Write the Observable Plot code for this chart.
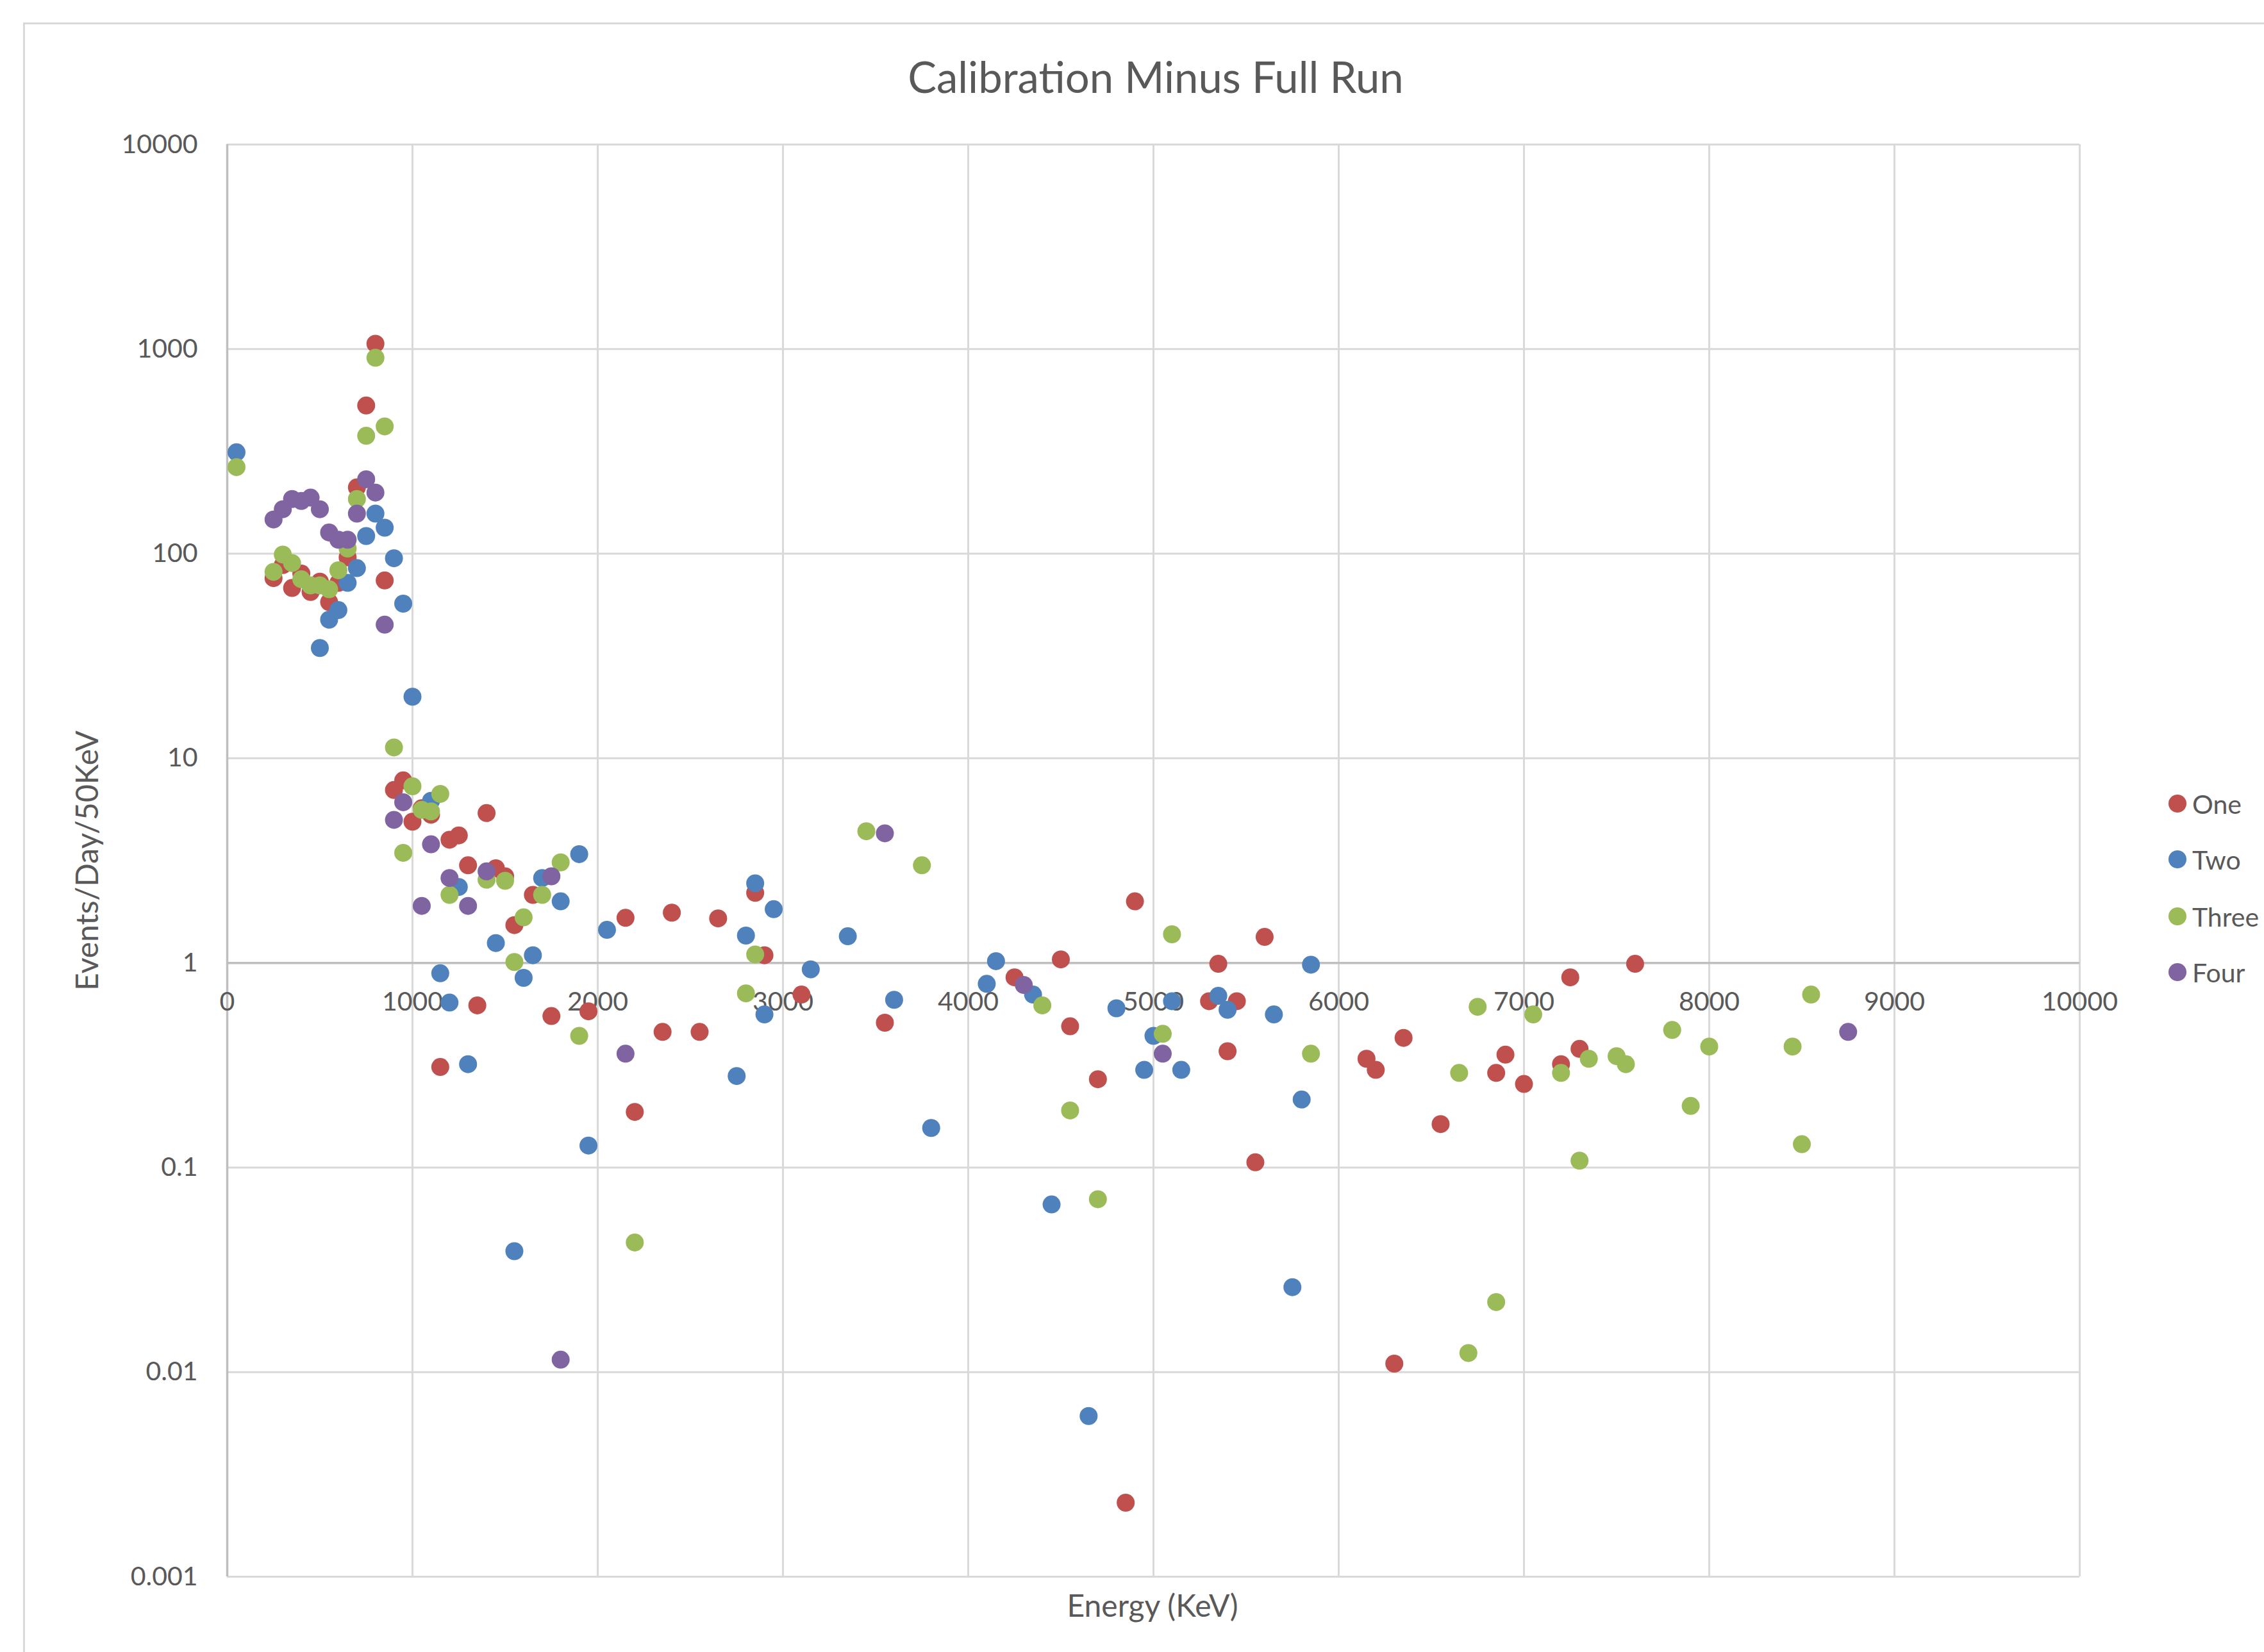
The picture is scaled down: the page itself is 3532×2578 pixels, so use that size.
<!DOCTYPE html>
<html><head><meta charset="utf-8">
<script src="https://cdn.jsdelivr.net/npm/d3@7"></script>
<script src="https://cdn.jsdelivr.net/npm/@observablehq/plot@0.6"></script>
<style>
body{margin:0;background:#fff;}
#wrap{position:relative;width:3532px;height:2578px;overflow:hidden;font-family:Lato,"Open Sans",sans-serif;color:#595959;background:#fff;}
.abs{position:absolute;white-space:nowrap;}
#wrap svg{position:absolute;left:0;top:0;}
</style></head><body><div id="wrap"></div>
<script>
const seriesNames = ["One", "Two", "Three", "Four"];
const seriesColors = ["#C0504D", "#4F81BD", "#9BBB59", "#8064A2"];

const oneE = [250,300,350,400,450,500,550,600,650,700,750,800,850,900,950,1000,1050,1100,1150,1200,1250,1300,1350,1400,1450,1500,1550,1650,1750,1950,2150,2200,2350,2400,2550,2650,2850,2900,3100,3550,4250,4500,4550,4700,4850,4900,5300,5350,5400,5450,5550,5600,6150,6200,6300,6350,6550,6850,6900,7000,7200,7250,7300,7600];
const oneV = [76,88,68,80,65,73,58,72,96,211,530,1062,74,7.0,7.8,4.9,5.7,5.3,0.31,4.0,4.2,3.0,0.62,5.4,2.9,2.65,1.53,2.15,0.55,0.58,1.66,0.187,0.46,1.76,0.46,1.65,2.2,1.09,0.70,0.51,0.85,1.04,0.49,0.27,0.0023,2.0,0.65,0.99,0.37,0.65,0.106,1.34,0.34,0.30,0.011,0.43,0.163,0.29,0.356,0.256,0.32,0.85,0.38,0.99];

const twoE = [50,500,550,600,650,700,750,800,850,900,950,1000,1100,1150,1200,1250,1300,1450,1550,1600,1650,1700,1800,1900,1950,2050,2750,2800,2850,2900,2950,3150,3350,3600,3800,4100,4150,4350,4450,4650,4800,4950,5000,5100,5150,5350,5400,5650,5750,5800,5850];
const twoV = [313,34.6,47.6,53,72,85,122,157,134,95,57,20,6.2,0.89,0.64,2.35,0.32,1.25,0.039,0.845,1.09,2.6,2.0,3.4,0.128,1.45,0.28,1.36,2.45,0.56,1.83,0.93,1.35,0.66,0.156,0.79,1.02,0.70,0.066,0.0061,0.60,0.30,0.44,0.65,0.30,0.69,0.59,0.56,0.026,0.215,0.98];

const threeE = [50,250,300,350,400,450,500,550,600,650,700,750,800,850,900,950,1000,1050,1100,1150,1200,1400,1500,1550,1600,1700,1800,1900,2200,2800,2850,3450,3750,4400,4550,4700,5050,5100,5850,6650,6700,6750,6850,7050,7200,7300,7350,7500,7550,7800,7900,8000,8450,8500,8550];
const threeV = [265,81.5,99,90,75,70,70,67,83,106,185,377,907,419,11.3,3.45,7.3,5.6,5.5,6.7,2.15,2.55,2.52,1.01,1.67,2.15,3.1,0.44,0.043,0.71,1.1,4.4,3.0,0.62,0.19,0.07,0.45,1.38,0.36,0.29,0.0124,0.61,0.022,0.56,0.29,0.108,0.34,0.35,0.32,0.47,0.2,0.39,0.39,0.13,0.70];

const fourE = [250,300,350,400,450,500,550,600,650,700,750,800,850,900,950,1050,1100,1200,1300,1400,1750,1800,2150,3550,4300,5050,8750];
const fourV = [147,165,185,181,188,165,127,117,117,157,231,199,45,5.0,6.1,1.9,3.8,2.6,1.9,2.8,2.65,0.0115,0.36,4.3,0.78,0.36,0.46];

const xTicks = [0,1000,2000,3000,4000,5000,6000,7000,8000,9000,10000];
const xTickLabels = ["0","1000","2000","3000","4000","5000","6000","7000","8000","9000","10000"];
const yTicks = [0.001,0.01,0.1,1,10,100,1000,10000];
const yTickLabels = ["0.001","0.01","0.1","1","10","100","1000","10000"];

const titleText = "Calibration Minus Full Run";
const xTitle = "Energy (KeV)";
const yTitle = "Events/Day/50KeV";

const allE = [oneE, twoE, threeE, fourE];
const allV = [oneV, twoV, threeV, fourV];
const points = [];
allE.forEach((es, s) => es.forEach((e, i) => points.push({series: seriesNames[s], e, v: allV[s][i]})));

const W = 3532, H = 2578;
const wrap = document.getElementById("wrap");

const border = document.createElement("div");
border.className = "abs";
Object.assign(border.style, {left:"36px", top:"35px", width:"5000px", height:"5000px", borderLeft:"3px solid #d9d9d9", borderTop:"3px solid #d9d9d9"});
wrap.appendChild(border);

const chart = Plot.plot({
  width: W, height: H,
  marginLeft: 354, marginRight: 288, marginTop: 225, marginBottom: 118,
  style: {fontFamily: "Lato, 'Open Sans', sans-serif", background: "transparent", color: "#595959"},
  x: {type: "linear", domain: [0, 10000], axis: null},
  y: {type: "log", domain: [0.001, 10000]},
  color: {domain: seriesNames, range: seriesColors},
  marks: [
    Plot.gridX(xTicks, {stroke: "#d9d9d9", strokeOpacity: 1, strokeWidth: 3}),
    Plot.gridY(yTicks, {stroke: "#d9d9d9", strokeOpacity: 1, strokeWidth: 3}),
    Plot.ruleY([1], {stroke: "#bfbfbf", strokeWidth: 3.5}),
    Plot.ruleX([0], {stroke: "#bfbfbf", strokeWidth: 3.5}),
    Plot.axisY(yTicks, {tickSize: 0, tickPadding: 46, tickFormat: d => yTickLabels[yTicks.indexOf(d)], fontSize: 41, fill: "#595959", label: null}),
    Plot.text(xTicks, {x: d => d, y: () => 1, dy: 61, text: d => xTickLabels[xTicks.indexOf(d)], fontSize: 41, fill: "#595959", textAnchor: "middle", lineAnchor: "middle"}),
    Plot.dot(points, {x: "e", y: "v", r: 14, fill: "series", stroke: null})
  ]
});
wrap.appendChild(chart);

function addText(txt, x, y, size, rot) {
  const d = document.createElement("div");
  d.className = "abs";
  d.textContent = txt;
  Object.assign(d.style, {left: x + "px", top: y + "px", fontSize: size + "px", lineHeight: "1",
    transform: "translate(-50%,-50%)" + (rot ? " rotate(" + rot + "deg)" : "")});
  wrap.appendChild(d);
  return d;
}
addText(titleText, 1803, 119, 67);
addText(xTitle, 1798, 2505, 48);
addText(yTitle, 135, 1343, 48, -90);

const legY = [1254, 1341, 1430, 1517];
seriesNames.forEach((n, i) => {
  const c = document.createElement("div");
  c.className = "abs";
  Object.assign(c.style, {left: (3397 - 14) + "px", top: (legY[i] - 14) + "px", width: "28px", height: "28px", borderRadius: "50%", background: seriesColors[i]});
  wrap.appendChild(c);
  const t = document.createElement("div");
  t.className = "abs";
  t.textContent = n;
  Object.assign(t.style, {left: "3420px", top: legY[i] + "px", fontSize: "41px", lineHeight: "1", transform: "translateY(-50%)"});
  wrap.appendChild(t);
});
</script>
</body></html>
